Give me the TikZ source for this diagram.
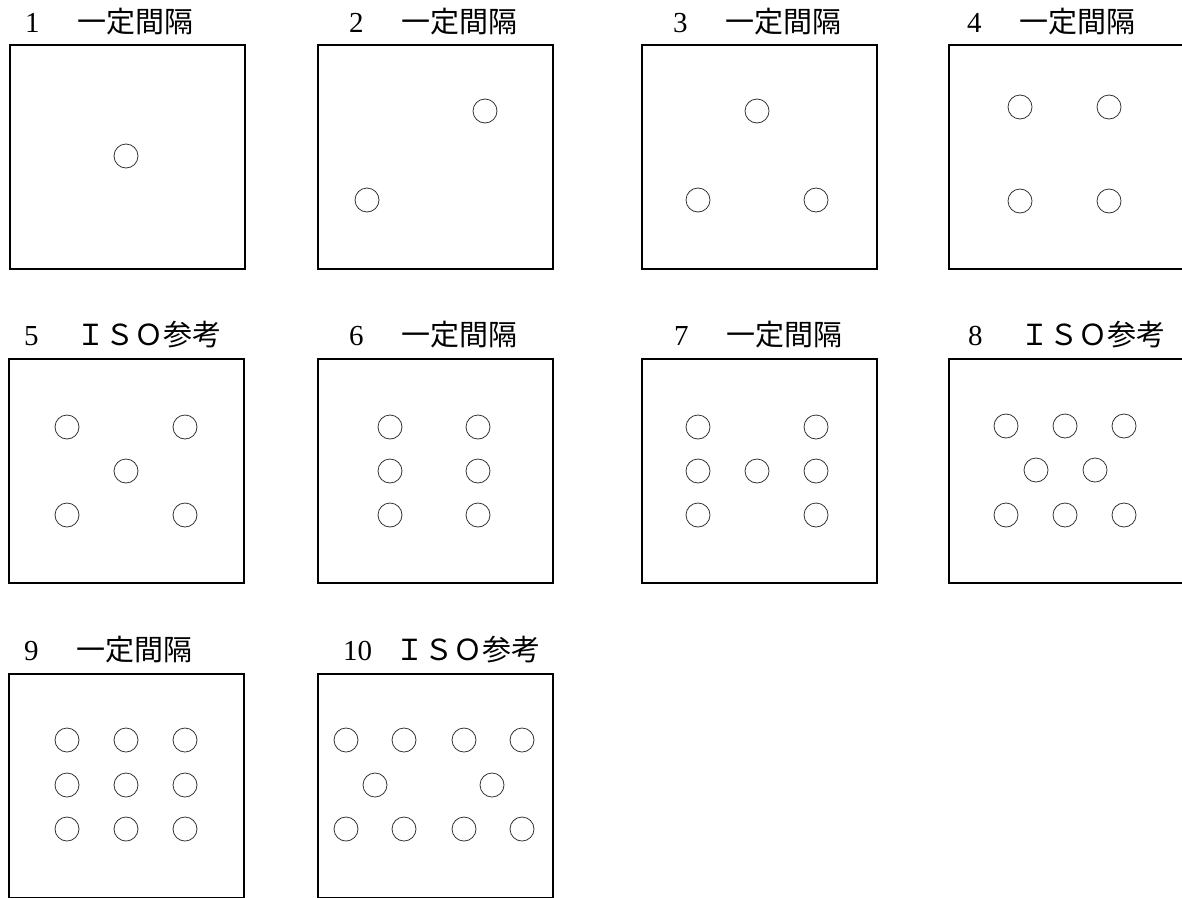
\documentclass[tikz,border=0pt]{standalone}
\usepackage{fontspec}
\setmainfont{Liberation Serif}
\newfontfamily\jp{Noto Sans CJK JP}
\usetikzlibrary{positioning}

\begin{document}
\begin{tikzpicture}[x=1pt, y=-1pt,
    frame/.style={draw, line width=2.4pt, minimum width=235pt, minimum height=224pt, anchor=north west, inner sep=0},
    hole/.style={draw=black!80, line width=0.8pt},
    lbl/.style={anchor=base west, inner sep=0, font=\fontsize{29pt}{34pt}\selectfont}]
  \useasboundingbox (0,0) rectangle (1182,897);
  % frames
  \foreach \n/\x/\y in {1/9/44, 2/317/44, 3/641/44, 4/948/44,
                        5/8/358, 6/317/358, 7/641/358, 8/948/358,
                        9/8/673, 10/317/673}
    \node[frame] (b\n) at (\x,\y) {};
  % titles
  \foreach \n/\x/\y/\t in {1/25/32/一定間隔, 2/349/32/一定間隔, 3/673/32/一定間隔, 4/967/32/一定間隔,
                           5/24/345/ＩＳＯ参考, 6/349/345/一定間隔, 7/674/345/一定間隔, 8/968/345/ＩＳＯ参考,
                           9/24/660/一定間隔, 10/343/660/ＩＳＯ参考}
    \node[lbl] (t\n) at (\x,\y) {\makebox[52pt][l]{\n}{\jp\t}};
  % holes
  \draw[hole] (126,156) circle (12);
  \foreach \p in {(485,111), (367,200)}
    \draw[hole] \p circle (12);
  \foreach \p in {(757,111), (698,200), (816,200)}
    \draw[hole] \p circle (12);
  \foreach \p in {(1020,107), (1109,107), (1020,201), (1109,201)}
    \draw[hole] \p circle (12);
  \foreach \p in {(67,427), (185,427), (126,471), (67,515), (185,515)}
    \draw[hole] \p circle (12);
  \foreach \x in {390, 478}
    \foreach \y in {427, 471, 515}
      \draw[hole] (\x,\y) circle (12);
  \foreach \p in {(698,427), (816,427), (698,471), (757,471), (816,471), (698,515), (816,515)}
    \draw[hole] \p circle (12);
  \foreach \p in {(1006,426), (1065,426), (1124,426), (1036,470), (1095,470), (1006,515), (1065,515), (1124,515)}
    \draw[hole] \p circle (12);
  \foreach \x in {67, 126, 185}
    \foreach \y in {740, 785, 829}
      \draw[hole] (\x,\y) circle (12);
  \foreach \x in {346, 404, 464, 522}
    \foreach \y in {740, 829}
      \draw[hole] (\x,\y) circle (12);
  \foreach \p in {(375,785), (492,785)}
    \draw[hole] \p circle (12);
\end{tikzpicture}
\end{document}
